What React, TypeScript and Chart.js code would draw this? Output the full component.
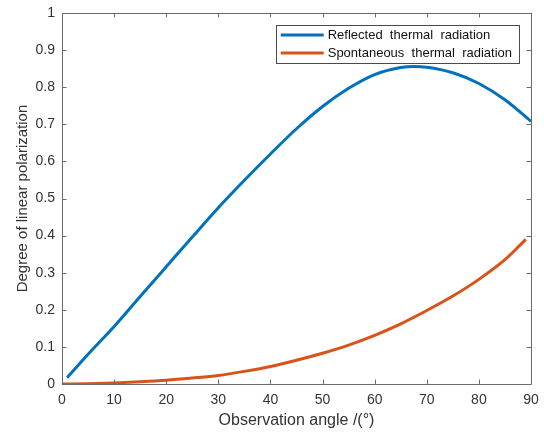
import React, { useEffect, useRef } from "react";
import { Chart, registerables } from "chart.js";

Chart.register(...registerables);

const reflectedX = [1, 5, 10, 15, 20, 25, 30, 35, 40, 45, 50, 55, 60, 65, 67.5, 70, 75, 80, 85, 90];
const reflectedY = [0.017, 0.08, 0.155, 0.236, 0.316, 0.396, 0.475, 0.549, 0.62, 0.688, 0.748, 0.797, 0.834, 0.853, 0.856, 0.854, 0.839, 0.81, 0.766, 0.708];

const spontaneousX = [0, 5, 10, 15, 20, 25, 30, 35, 40, 45, 50, 55, 60, 65, 70, 75, 80, 85, 89];
const spontaneousY = [0, 0.001, 0.003, 0.006, 0.01, 0.016, 0.023, 0.034, 0.047, 0.064, 0.083, 0.105, 0.131, 0.162, 0.198, 0.237, 0.282, 0.335, 0.39];

const seriesLabels = ["Reflected  thermal  radiation", "Spontaneous  thermal  radiation"];
const seriesColors = ["#0072BD", "#D95319"];

const xTitle = "Observation angle /(°)";
const yTitle = "Degree of linear polarization";

const FONT = "'Liberation Sans', Arial, Helvetica, sans-serif";
const AXIS = "#6a6a6a";
const TEXT = "#333333";

const boxTicksPlugin = {
  id: "boxTicks",
  afterDatasetsDraw(chart: any) {
    const { ctx, chartArea } = chart;
    const { left, right, top, bottom } = chartArea;
    const xs = chart.scales.x;
    const ys = chart.scales.y;
    ctx.save();
    ctx.strokeStyle = AXIS;
    ctx.lineWidth = 1;
    ctx.beginPath();
    ctx.rect(Math.round(left) + 0.5, Math.round(top) + 0.5, Math.round(right - left), Math.round(bottom - top));
    ctx.stroke();
    const len = 4.5;
    ctx.beginPath();
    xs.ticks.forEach((t: any) => {
      const px = Math.round(xs.getPixelForValue(t.value)) + 0.5;
      ctx.moveTo(px, bottom);
      ctx.lineTo(px, bottom - len);
      ctx.moveTo(px, top);
      ctx.lineTo(px, top + len);
    });
    ys.ticks.forEach((t: any) => {
      const py = Math.round(ys.getPixelForValue(t.value)) + 0.5;
      ctx.moveTo(left, py);
      ctx.lineTo(left + len, py);
      ctx.moveTo(right, py);
      ctx.lineTo(right - len, py);
    });
    ctx.stroke();

    // legend
    const font = `13px ${FONT}`;
    ctx.font = font;
    const ds = chart.data.datasets;
    let maxW = 0;
    ds.forEach((d: any) => {
      maxW = Math.max(maxW, ctx.measureText(d.label).width);
    });
    const lineLen = 43;
    const boxRight = right - 12;
    const boxW = 5 + lineLen + 4 + maxW + 7;
    const boxLeft = boxRight - boxW;
    const boxTop = top + 12;
    const rowH = 18;
    const boxH = rowH * ds.length + 2;
    ctx.fillStyle = "#ffffff";
    ctx.fillRect(boxLeft, boxTop, boxW, boxH);
    ctx.strokeStyle = "#4a4a4a";
    ctx.lineWidth = 1;
    ctx.strokeRect(Math.round(boxLeft) + 0.5, Math.round(boxTop) + 0.5, Math.round(boxW), Math.round(boxH));
    ds.forEach((d: any, i: number) => {
      const cy = boxTop + 10 + i * rowH;
      ctx.strokeStyle = d.borderColor;
      ctx.lineWidth = 3;
      ctx.beginPath();
      ctx.moveTo(boxLeft + 5, cy);
      ctx.lineTo(boxLeft + 5 + lineLen, cy);
      ctx.stroke();
      ctx.fillStyle = "#111111";
      ctx.textBaseline = "middle";
      ctx.textAlign = "left";
      ctx.fillText(d.label, boxLeft + 5 + lineLen + 4, cy + 0.5);
    });
    ctx.restore();
  },
};

export default function App() {
  const ref = useRef<HTMLCanvasElement>(null);

  useEffect(() => {
    if (!ref.current) return;
    const chart = new Chart(ref.current, {
      type: "line",
      data: {
        datasets: [
          {
            label: seriesLabels[0],
            data: reflectedX.map((x, i) => ({ x, y: reflectedY[i] })),
            borderColor: seriesColors[0],
            borderWidth: 3,
            pointRadius: 0,
            cubicInterpolationMode: "monotone",
            fill: false,
          },
          {
            label: seriesLabels[1],
            data: spontaneousX.map((x, i) => ({ x, y: spontaneousY[i] })),
            borderColor: seriesColors[1],
            borderWidth: 3,
            pointRadius: 0,
            cubicInterpolationMode: "monotone",
            fill: false,
          },
        ],
      },
      options: {
        responsive: false,
        animation: false,
        devicePixelRatio: 1,
        layout: { padding: 0 },
        plugins: {
          legend: { display: false },
          tooltip: { enabled: false },
        },
        scales: {
          x: {
            type: "linear",
            min: 0,
            max: 90,
            grid: { display: false, drawTicks: false },
            border: { display: false },
            ticks: {
              stepSize: 10,
              padding: 8,
              color: TEXT,
              font: { family: FONT, size: 14 },
            },
            title: {
              display: true,
              text: xTitle,
              color: TEXT,
              font: { family: FONT, size: 16 },
              padding: { top: 0, bottom: 2 },
            },
            afterFit: (s: any) => {
              s.height = 48;
              s.paddingLeft = 0;
              s.paddingRight = 13;
            },
          },
          y: {
            type: "linear",
            min: 0,
            max: 1,
            grid: { display: false, drawTicks: false },
            border: { display: false },
            ticks: {
              stepSize: 0.1,
              padding: 7,
              color: TEXT,
              font: { family: FONT, size: 14 },
              callback: (v: any) => String(Number(Number(v).toFixed(1))),
            },
            title: {
              display: true,
              text: yTitle,
              color: TEXT,
              font: { family: FONT, size: 15 },
              padding: { top: 14, bottom: 0 },
            },
            afterFit: (s: any) => {
              s.width = 62;
              s.paddingTop = 13;
              s.paddingBottom = 0;
            },
          },
        },
      },
      plugins: [boxTicksPlugin],
    });
    return () => chart.destroy();
  }, []);

  return (
    <div style={{ position: "fixed", left: 0, top: 0, width: 544, height: 432, background: "#fff" }}>
      <canvas ref={ref} width={544} height={432} />
    </div>
  );
}
